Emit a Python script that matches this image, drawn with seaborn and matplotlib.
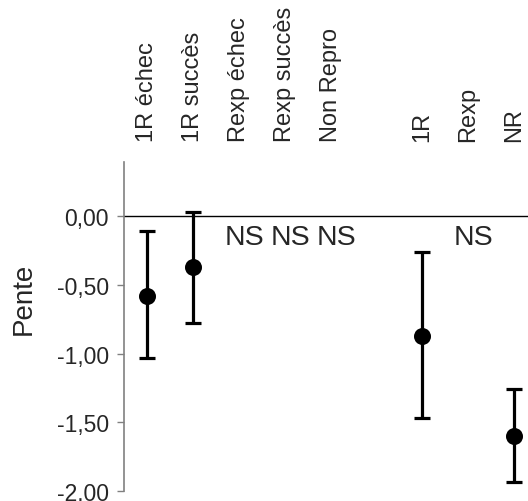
import numpy as np
import pandas as pd
import seaborn as sns
import matplotlib.pyplot as plt
from matplotlib.ticker import FuncFormatter

categories = ["1R échec", "1R succès", "Rexp échec", "Rexp succès", "Non Repro",
              "1R", "Rexp", "NR"]
x_pos = [0, 1, 2, 3, 4, 6, 7, 8]
slope = [-0.58, -0.37, np.nan, np.nan, np.nan, -0.87, np.nan, -1.60]
upper = [-0.105, 0.035, np.nan, np.nan, np.nan, -0.26, np.nan, -1.26]
lower = [-1.035, -0.78, np.nan, np.nan, np.nan, -1.47, np.nan, -1.935]
signif = ["", "", "NS", "NS", "NS", "", "NS", ""]
y_ticks = [0.0, -0.5, -1.0, -1.5, -2.0]

sns.set_style("white")
plt.rcParams['font.family'] = ['Liberation Sans', 'DejaVu Sans']

df = pd.DataFrame({"cat": categories, "x": x_pos, "slope": slope,
                   "upper": upper, "lower": lower, "ns": signif})
pts = df.dropna(subset=["slope"])

fig = plt.figure(figsize=(5.28, 5.02), dpi=100)
ax = fig.add_axes([0.2348, 0.0205, 0.7652, 0.6555])

ax.axhline(0, color='black', lw=1.0, zorder=1)
ax.errorbar(pts["x"], pts["slope"],
            yerr=[pts["slope"] - pts["lower"], pts["upper"] - pts["slope"]],
            fmt='none', ecolor='black', elinewidth=2.3, capsize=6, capthick=2.3, zorder=2)
sns.scatterplot(data=pts, x="x", y="slope", ax=ax, color='black', s=150,
                edgecolor='black', linewidth=0, zorder=3, legend=False)

# NS labels for the non significant groups
for _, r in df[df["ns"] != ""].iterrows():
    ax.text(r["x"] + 0.12, -0.15, r["ns"], ha='center', va='center', fontsize=20.5)

ax.set_xlim(-0.5, 8.3)
ax.set_ylim(-2.0, 0.40)
ax.set_xticks(x_pos)
ax.set_xticklabels(categories, rotation=90, fontsize=17)
ax.xaxis.tick_top()
ax.tick_params(axis='x', length=0, pad=15)
ax.set_yticks(y_ticks)
ax.yaxis.set_major_formatter(FuncFormatter(lambda v, p: f"{v:.2f}".replace(".", ",")))
ax.tick_params(axis='y', direction='out', length=5, width=1, color='#808080',
               labelsize=16.5, pad=6, left=True)
ax.set_xlabel("")
ax.set_ylabel("Pente", fontsize=20)
ax.yaxis.set_label_coords(-0.215, 0.585)

for s in ["top", "right", "bottom"]:
    ax.spines[s].set_visible(False)
ax.spines["left"].set_color('#808080')
ax.spines["left"].set_linewidth(1.2)

fig.savefig("out.png", dpi=100)
